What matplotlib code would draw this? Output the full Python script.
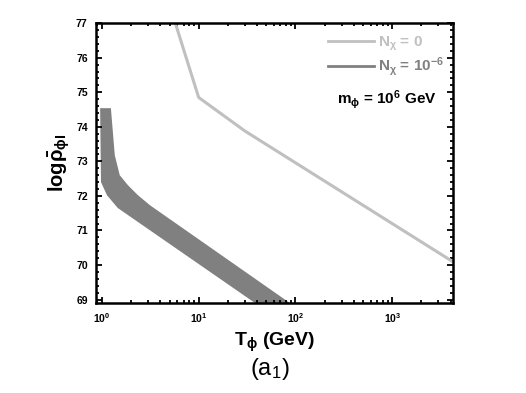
import numpy as np
import matplotlib
matplotlib.use('Agg')
import matplotlib.pyplot as plt
from matplotlib.lines import Line2D

plt.rcParams['font.family'] = ['Liberation Sans', 'DejaVu Sans']
plt.rcParams['mathtext.default'] = 'regular'

# N_chi = 0 : light grey line
T_n0 = [5.6, 10, 30, 4200]
rho_n0 = [77.1, 74.85, 73.88, 70.1]

# N_chi = 1e-6 : dark grey band (upper and lower edges)
T_up = [0.96, 1.24, 1.36, 1.53, 1.86, 2.36, 3.14, 95]
rho_up = [74.54, 74.54, 73.18, 72.6, 72.31, 72.02, 71.73, 68.83]
T_lo = [0.96, 0.98, 1.13, 1.46, 42]
rho_lo = [74.54, 72.4, 72.02, 71.65, 68.82]

xticks = [1, 10, 100, 1000]
xticklabels = [r'$10^{0}$', r'$10^{1}$', r'$10^{2}$', r'$10^{3}$']
yticks = [69, 70, 71, 72, 73, 74, 75, 76, 77]

c_light = '#c0c0c0'
c_dark = '#808080'

fig = plt.figure(figsize=(5.26, 3.93), dpi=100)
ax = fig.add_axes([0.1825, 0.229, 0.678, 0.712])

# bande
poly_x = list(T_up) + list(T_lo[::-1])
poly_y = list(rho_up) + list(rho_lo[::-1])
ax.fill(poly_x, poly_y, color=c_dark, linewidth=0)

ax.plot(T_n0, rho_n0, color=c_light, linewidth=2.2)

ax.set_xscale('log')
ax.set_xlim(0.87, 4200)
ax.set_ylim(68.9, 77)

ax.set_xticks(xticks)
ax.set_xticklabels(xticklabels)
ax.set_yticks(yticks)
ax.set_yticks(np.arange(69, 77.01, 0.2), minor=True)
ax.tick_params(which='both', direction='in', top=True, right=True, width=1.3,
               labelsize=7.5, pad=6)
ax.tick_params(which='major', length=4.5)
ax.tick_params(which='minor', length=2.5)
for lab in ax.get_xticklabels() + ax.get_yticklabels():
	lab.set_fontweight('bold')
for sp in ax.spines.values():
	sp.set_linewidth(1.8)

ax.set_xlabel(r'T$_{\phi}$ (GeV)', fontsize=14, fontweight='bold', labelpad=4)
ax.set_ylabel(r'log$\bar{\rho}_{\phi I}$', fontsize=14.5, fontweight='bold', labelpad=3)
fig.text(0.513, 0.061, r'(a$_{1}$)', fontsize=17, ha='center', va='center')

handles = [Line2D([], [], color=c_light, linewidth=2),
           Line2D([], [], color=c_dark, linewidth=2)]
leg = ax.legend(handles, [r'N$_{\chi}$ = 0', r'N$_{\chi}$ = 10$^{-6}$'],
                loc='upper left', frameon=False, handlelength=3.0,
                handletextpad=0.25, labelspacing=0.15,
                prop={'size': 11, 'weight': 'bold'},
                bbox_to_anchor=(0.634, 0.98), borderaxespad=0)
leg.get_texts()[0].set_color(c_light)
leg.get_texts()[1].set_color(c_dark)

ax.text(0.955, 0.726, r'm$_{\phi}$ = 10$^{6}$ GeV', transform=ax.transAxes,
        fontsize=11, fontweight='bold', ha='right', va='center')

fig.savefig('out.png', dpi=100)
